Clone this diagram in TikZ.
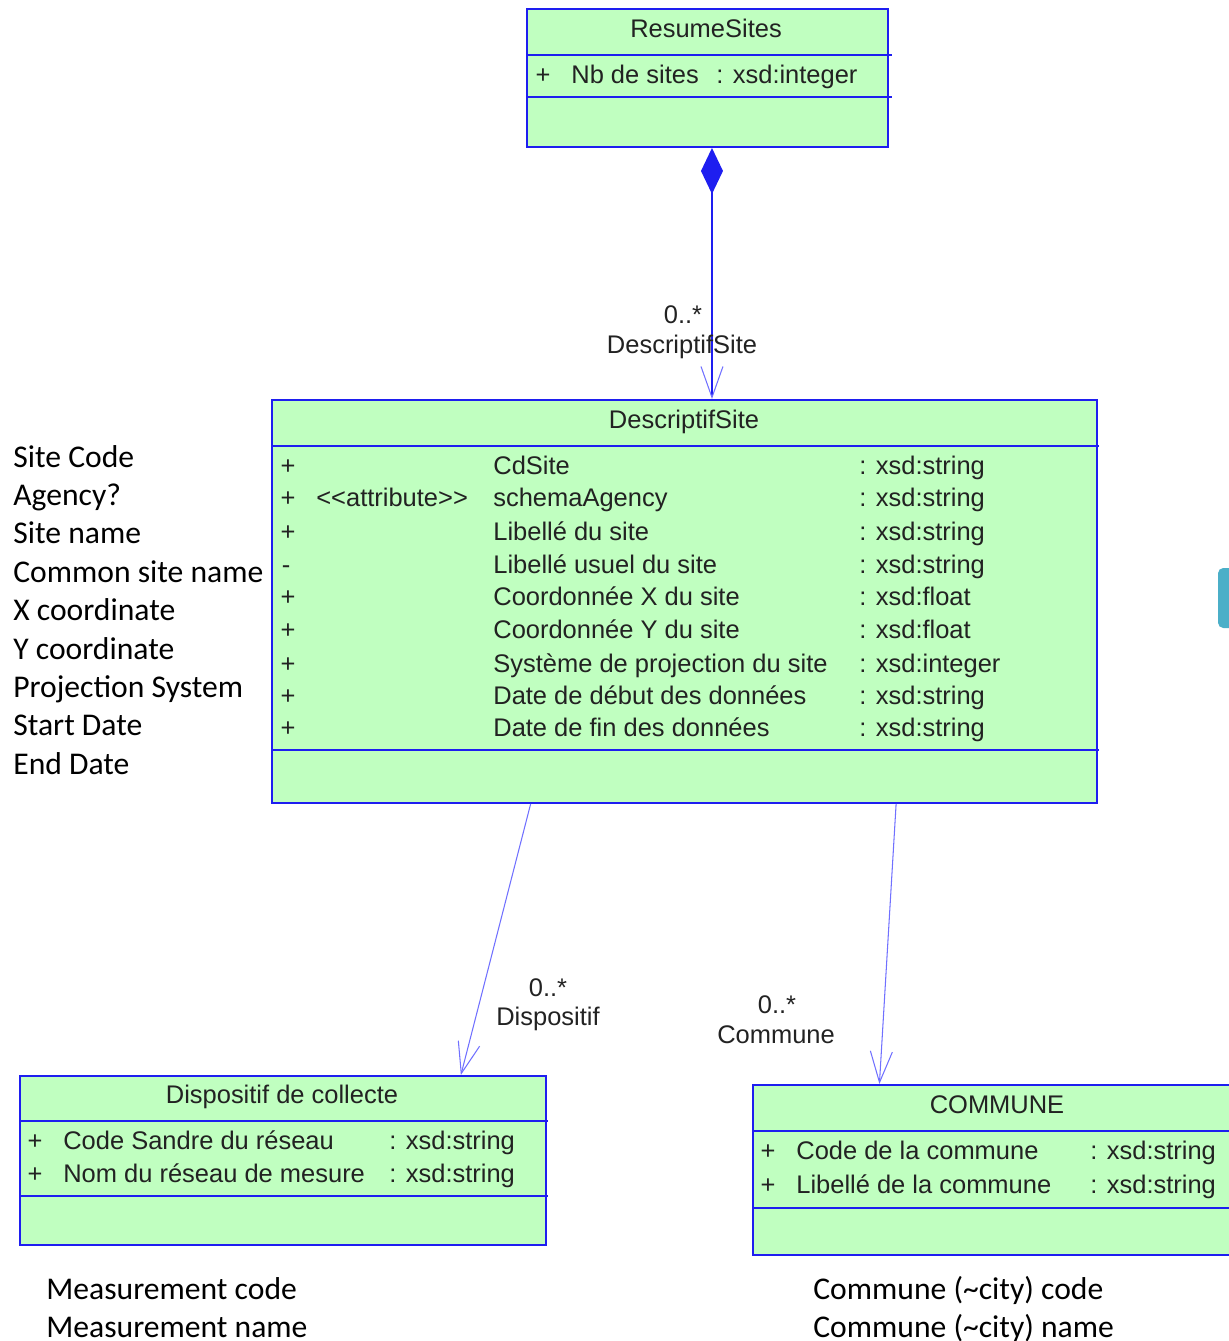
\documentclass[tikz,border=0pt]{standalone}
\usepackage{fontspec}
\setmainfont{Liberation Sans}
\newfontfamily\notefont{Carlito}
\usetikzlibrary{arrows.meta,calc}

\definecolor{classfill}{HTML}{C0FFC0}
\definecolor{classline}{HTML}{1E1EF0}
\definecolor{assocline}{HTML}{7070FF}
\definecolor{umltext}{HTML}{222222}
\definecolor{tabbar}{HTML}{4BAFC8}

% one attribute line of a class: name, y, x sign, sign, x name, name, x type, type
\newcommand{\AttrRow}[8]{
    \node[umltxt, anchor=mid] (#1-s) at (#3,#2) {#4};
    \node[umltxt] (#1-n) at (#5,#2) {#6};
    \node[umltxt] (#1-t) at (#7,#2) {#8};
}

\begin{document}
\begin{tikzpicture}[
  x=0.02cm, y=-0.02cm,
  classbox/.style={draw=classline, fill=classfill, line width=1.15pt, inner sep=0pt, anchor=north west},
  sepline/.style={draw=classline, line width=1.15pt},
  umltxt/.style={text=umltext, font=\fontsize{14.5}{17}\selectfont, inner sep=0pt, anchor=mid west, yshift=-0.1cm},
  notetxt/.style={font=\notefont\fontsize{18}{21}\selectfont, inner sep=0pt, anchor=mid west, yshift=-0.12cm},
  assoc/.style={draw=assocline, line width=0.6pt, -{Straight Barb[length=0.62cm, width=0.44cm]}},
  compo/.style={draw=classline, line width=1.15pt,
    {Diamond[length=0.92cm, width=0.44cm]}-{Straight Barb[length=0.62cm, width=0.44cm, line width=0.6pt, color=assocline]}}
  ]
  \useasboundingbox (0,0) rectangle (1229,1341);
  \clip (0,0) rectangle (1229,1341);

  % classes
  \node[classbox, minimum width=7.22cm, minimum height=2.76cm] (resume) at (526,8) {};
  \draw[sepline] (526,55) -- (892,55);
  \draw[sepline] (526,97) -- (892,97);
  \node[umltxt, anchor=mid] (resume-title) at (706,28) {ResumeSites};
  \AttrRow{nbsites}{74}{543}{+}{571}{Nb de sites}{716}{: xsd:integer}

  \node[classbox, minimum width=16.5cm, minimum height=8.06cm] (site) at (271,399) {};
  \draw[sepline] (271,446) -- (1099,446);
  \draw[sepline] (271,750) -- (1099,750);
  \node[umltxt, anchor=mid] (site-title) at (684,419) {DescriptifSite};
  \AttrRow{cdsite}{465}{288}{+}{493}{CdSite}{859}{: xsd:string}
  \AttrRow{agency}{497}{288}{+}{493}{schemaAgency}{859}{: xsd:string}
  \node[umltxt] (agency-st) at (316,497) {<\kern0pt<attribute>\kern0pt>};
  \AttrRow{libelle}{531}{288}{+}{493}{Libellé du site}{859}{: xsd:string}
  \AttrRow{usuel}{564}{286}{-}{493}{Libellé usuel du site}{859}{: xsd:string}
  \AttrRow{coordx}{596}{288}{+}{493}{Coordonnée X du site}{859}{: xsd:float}
  \AttrRow{coordy}{629}{288}{+}{493}{Coordonnée Y du site}{859}{: xsd:float}
  \AttrRow{proj}{663}{288}{+}{493}{Système de projection du site}{859}{: xsd:integer}
  \AttrRow{debut}{695}{288}{+}{493}{Date de début des données}{859}{: xsd:string}
  \AttrRow{fin}{727}{288}{+}{493}{Date de fin des données}{859}{: xsd:string}

  \node[classbox, minimum width=10.52cm, minimum height=3.38cm] (collecte) at (19,1075) {};
  \draw[sepline] (19,1121) -- (548,1121);
  \draw[sepline] (19,1196) -- (548,1196);
  \node[umltxt, anchor=mid] (collecte-title) at (282,1094) {Dispositif de collecte};
  \AttrRow{sandre}{1140}{35}{+}{63}{Code Sandre du réseau}{389}{: xsd:string}
  \AttrRow{reseau}{1173}{35}{+}{63}{Nom du réseau de mesure}{389}{: xsd:string}

  \node[classbox, minimum width=9.8cm, minimum height=3.4cm] (commune) at (752,1084) {};
  \draw[sepline] (752,1131) -- (1242,1131);
  \draw[sepline] (752,1208) -- (1242,1208);
  \node[umltxt, anchor=mid] (commune-title) at (997,1104) {COMMUNE};
  \AttrRow{codecom}{1150}{768}{+}{796}{Code de la commune}{1090}{: xsd:string}
  \AttrRow{libcom}{1184}{768}{+}{796}{Libellé de la commune}{1090}{: xsd:string}

  % associations
  \draw[compo] ([xshift=0.09cm]resume.south) -- ([xshift=0.09cm]resume.south |- site.north);
  \draw[assoc] ($(site.south west)!0.314!(site.south east)$) -- ($(collecte.north west)!0.837!(collecte.north east)$);
  \draw[assoc] ($(site.south west)!0.756!(site.south east)$) -- ($(commune.north west)!0.259!(commune.north east)$);

  \node[umltxt, anchor=mid] (site-mult) at (683,314) {0..*};
  \node[umltxt, anchor=mid] (site-role) at (682,344) {DescriptifSite};
  \node[umltxt, anchor=mid] (disp-mult) at (548,987) {0..*};
  \node[umltxt, anchor=mid] (disp-role) at (548,1016) {Dispositif};
  \node[umltxt, anchor=mid] (com-mult) at (777,1004) {0..*};
  \node[umltxt, anchor=mid] (com-role) at (776,1034) {Commune};

  % english notes
  \foreach \txt/\yy [count=\i] in {Site Code/457, Agency?/495, Site name/533, Common site name/572,
      X coordinate/610, Y coordinate/649, Projection System/687, Start Date/725, End Date/764}
    \node[notetxt] (note\i) at (13,\yy) {\txt};
  \node[notetxt] (mescode) at (46,1289) {Measurement code};
  \node[notetxt] (mesname) at (46,1327) {Measurement name};
  \node[notetxt] (citycode) at (813,1289) {Commune (\textasciitilde city) code};
  \node[notetxt] (cityname) at (813,1327) {Commune (\textasciitilde city) name};

  % side tab
  \fill[tabbar, rounded corners=3pt] (1218,568) rectangle (1240,628);
\end{tikzpicture}
\end{document}
